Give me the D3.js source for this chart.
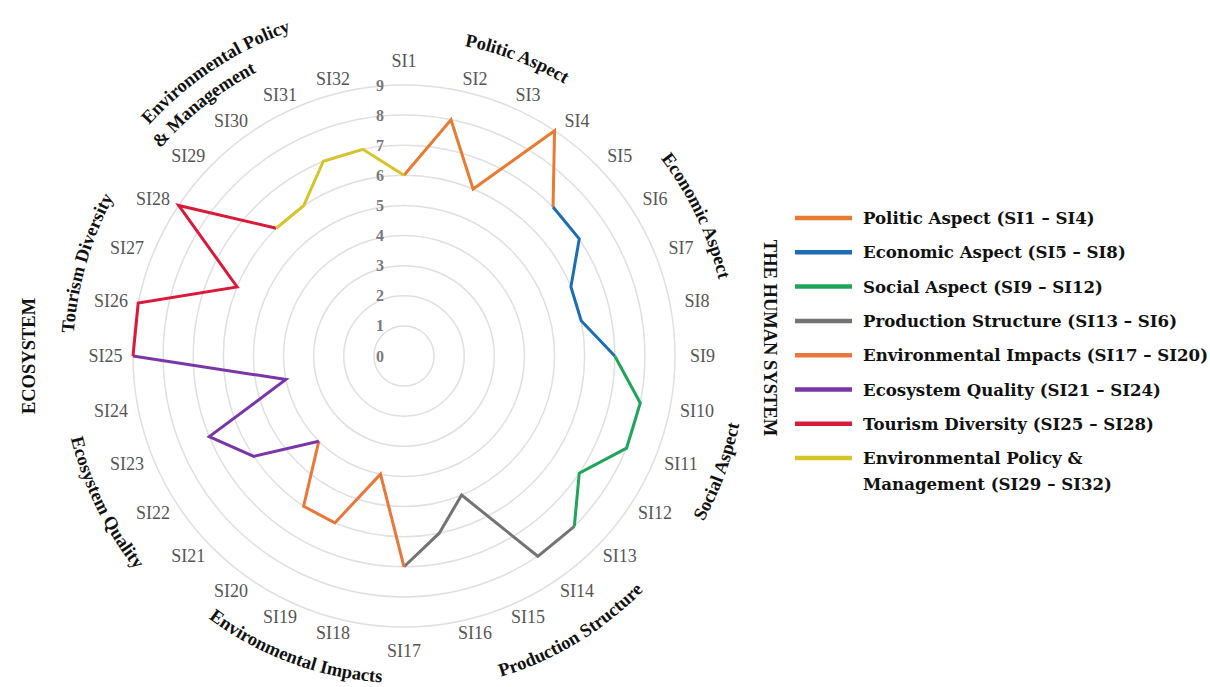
<!DOCTYPE html>
<html>
<head>
<meta charset="utf-8">
<script src="https://cdn.jsdelivr.net/npm/d3@7"></script>
<style>
  html, body { margin: 0; padding: 0; background: #fff; }
  svg { display: block; }
</style>
</head>
<body>
<svg id="chart" width="1210" height="687"></svg>
<script>
// Sustainability indicator scores (SI1 … SI32)
const indicators = d3.range(1, 33).map(i => "SI" + i);
const scores = [6, 8, 6, 9, 7, 7, 6, 6, 7, 8, 8, 7, 8, 8, 5, 6,
                7, 4, 6, 6, 4, 6, 7, 4, 9, 9, 6, 9, 6, 6, 7, 7];

// Each aspect covers four indicators
const groupNames = ["Politic Aspect", "Economic Aspect", "Social Aspect", "Production Structure",
                    "Environmental Impacts", "Ecosystem Quality", "Tourism Diversity",
                    "Environmental Policy & Management"];
const groupTitleLines = [["Politic Aspect"], ["Economic Aspect"], ["Social Aspect"], ["Production Structure"],
                         ["Environmental Impacts"], ["Ecosystem Quality"], ["Tourism Diversity"],
                         ["Environmental Policy", "& Management"]];
const legendLabels = [["Politic Aspect (SI1 – SI4)"], ["Economic Aspect (SI5 – SI8)"],
                      ["Social Aspect (SI9 – SI12)"], ["Production Structure (SI13 – SI6)"],
                      ["Environmental Impacts (SI17 – SI20)"], ["Ecosystem Quality (SI21 – SI24)"],
                      ["Tourism Diversity (SI25 – SI28)"], ["Environmental Policy &", "Management (SI29 – SI32)"]];
const systemLabels = ["THE HUMAN SYSTEM", "ECOSYSTEM"];
const tickValues = d3.range(0, 10);

const groupColors = ["#E97B30", "#1B6DB4", "#1FA55A", "#737373",
                     "#E9773A", "#7A36A6", "#DA1A3B", "#D4C52A"];

// ---- layout ----
const cx = 404, cy = 356;
const maxVal = 9;
const outerR = 271;

const svg = d3.select("#chart");
const defs = svg.append("defs");
const g = svg.append("g").attr("transform", `translate(${cx},${cy})`);

const angle = d3.scaleLinear().domain([0, indicators.length]).range([0, 2 * Math.PI]);
const radius = d3.scaleLinear().domain([0, maxVal]).range([0, outerR]);

const polar = (a, r) => [r * Math.sin(a), -r * Math.cos(a)];

// grid circles
g.append("g").selectAll("circle")
  .data(tickValues.filter(v => v > 0))
  .join("circle")
  .attr("r", d => radius(d))
  .attr("fill", "none")
  .attr("stroke", "#e0e0e0")
  .attr("stroke-width", 1.5);

// tick labels along the vertical axis
g.append("g").selectAll("text")
  .data(tickValues)
  .join("text")
  .attr("x", -24)
  .attr("y", d => -radius(d))
  .attr("text-anchor", "middle")
  .attr("dominant-baseline", "central")
  .attr("font-family", "Liberation Serif, Times New Roman, serif")
  .attr("font-weight", "bold")
  .attr("font-size", 16)
  .attr("fill", "#7a7a7a")
  .text(d => d);

// indicator labels: anchored just outside the spoke end, pushed sideways
// (or up/down on the vertical spokes) so the label box clears the grid
const labelR = 282.5, sideShift = 16, capShift = 12.5;
function labelPos(i) {
  const a = angle(i);
  const [x, y] = polar(a, labelR);
  const s = Math.sin(a), c = Math.cos(a);
  if (Math.abs(s) < 1e-6) return [x, y - capShift * Math.sign(c)];
  return [x + sideShift * Math.sign(s), y];
}
g.append("g").selectAll("text")
  .data(indicators)
  .join("text")
  .attr("x", (d, i) => labelPos(i)[0])
  .attr("y", (d, i) => labelPos(i)[1])
  .attr("text-anchor", "middle")
  .attr("dominant-baseline", "central")
  .attr("font-family", "Liberation Serif, Times New Roman, serif")
  .attr("font-size", 18)
  .attr("fill", "#555")
  .text(d => d);

// score line, one coloured segment per aspect
const radialLine = d3.lineRadial()
  .angle(d => angle(d.i))
  .radius(d => radius(d.v));

const segments = groupNames.map((name, gi) =>
  d3.range(gi * 4, gi * 4 + 5).map(k => ({ i: k, v: scores[k % scores.length] })));

g.append("g").selectAll("path")
  .data(segments)
  .join("path")
  .attr("d", radialLine)
  .attr("fill", "none")
  .attr("stroke", (d, gi) => groupColors[gi])
  .attr("stroke-width", 3)
  .attr("stroke-linejoin", "miter");

// curved aspect titles: centre angle per line (deg), radius per line, flipped for the lower half
const titleLayout = [
  { a: [20.8], r: [322], flip: false },
  { a: [64.4], r: [330], flip: false },
  { a: [110.2], r: [336], flip: true },
  { a: [148.8], r: [329], flip: true },
  { a: [200.3], r: [321], flip: true },
  { a: [243.8], r: [337], flip: true },
  { a: [286.3], r: [337], flip: false },
  { a: [326.5, 321.5], r: [350, 326], flip: false },
];
const titleSize = 18.5;
const titles = g.append("g");
groupTitleLines.forEach((lines, gi) => {
  const L = titleLayout[gi];
  lines.forEach((line, li) => {
    const rc = L.r[li], ac = L.a[li];
    const rb = L.flip ? rc + 0.33 * titleSize : rc - 0.33 * titleSize;
    const a0 = (ac - 60) * Math.PI / 180, a1 = (ac + 60) * Math.PI / 180;
    const p0 = polar(L.flip ? a1 : a0, rb), p1 = polar(L.flip ? a0 : a1, rb);
    const id = `titlePath${gi}_${li}`;
    defs.append("path")
      .attr("id", id)
      .attr("d", `M${p0[0]},${p0[1]} A${rb},${rb} 0 0 ${L.flip ? 0 : 1} ${p1[0]},${p1[1]}`);
    titles.append("text")
      .attr("font-family", "Liberation Serif, Times New Roman, serif")
      .attr("font-weight", "bold")
      .attr("font-size", titleSize)
      .attr("fill", "#111")
      .append("textPath")
      .attr("href", `#${id}`)
      .attr("startOffset", "50%")
      .attr("text-anchor", "middle")
      .text(line);
  });
});

// system labels
svg.append("text")
  .attr("transform", "translate(770,338) rotate(90)")
  .attr("text-anchor", "middle")
  .attr("dominant-baseline", "central")
  .attr("font-family", "Liberation Serif, Times New Roman, serif")
  .attr("font-weight", "bold")
  .attr("font-size", 18.5)
  .attr("fill", "#111")
  .text(systemLabels[0]);
svg.append("text")
  .attr("transform", "translate(29,356) rotate(-90)")
  .attr("text-anchor", "middle")
  .attr("dominant-baseline", "central")
  .attr("font-family", "Liberation Serif, Times New Roman, serif")
  .attr("font-weight", "bold")
  .attr("font-size", 18.5)
  .attr("fill", "#111")
  .text(systemLabels[1]);

// legend
const legendY = d3.scaleLinear().domain([0, 1]).range([218, 252.3]);
const legend = svg.append("g");
const items = legend.selectAll("g")
  .data(legendLabels)
  .join("g")
  .attr("transform", (d, i) => `translate(0,${legendY(i)})`);
items.append("line")
  .attr("x1", 795).attr("x2", 852)
  .attr("stroke", (d, i) => groupColors[i])
  .attr("stroke-width", 4.5);
items.append("text")
  .attr("x", 863)
  .attr("dominant-baseline", "central")
  .attr("font-family", "DejaVu Serif, serif")
  .attr("font-weight", "bold")
  .attr("font-size", 16.6)
  .attr("fill", "#111")
  .selectAll("tspan")
  .data(d => d)
  .join("tspan")
  .attr("x", 863)
  .attr("dy", (d, j) => j === 0 ? 0 : 26)
  .text(d => d);
</script>
</body>
</html>
